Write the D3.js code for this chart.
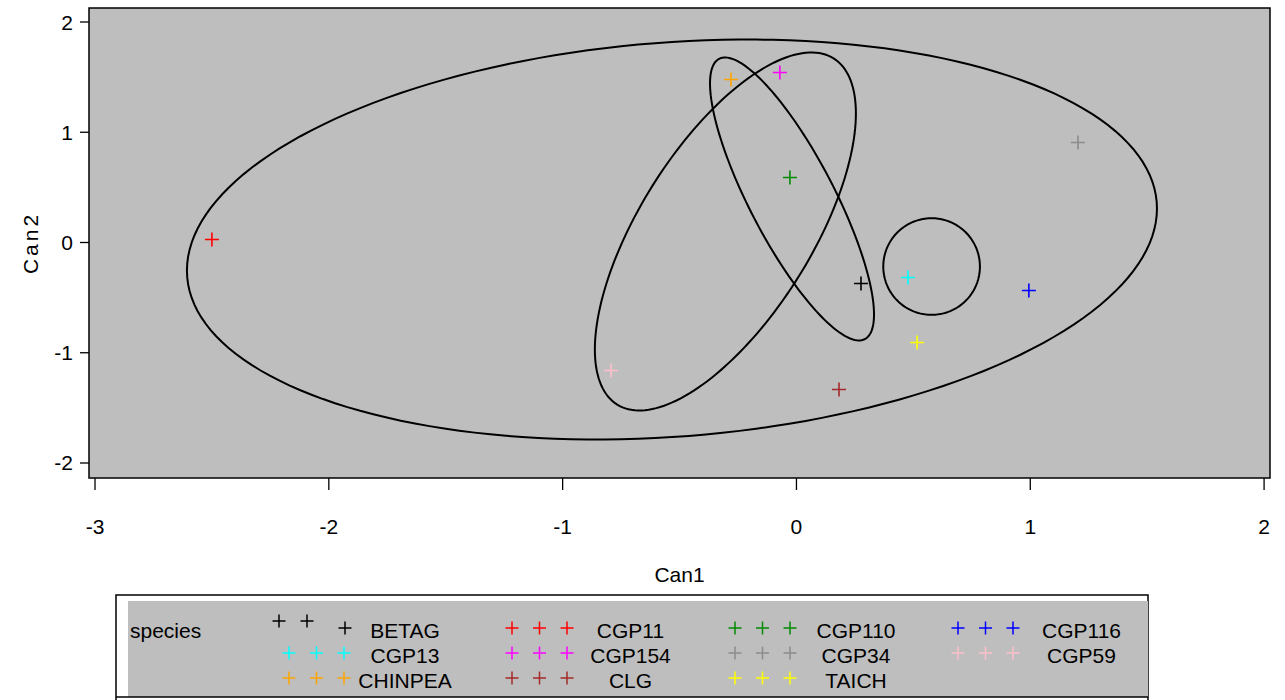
<!DOCTYPE html>
<html>
<head>
<meta charset="utf-8">
<script src="https://cdn.jsdelivr.net/npm/d3@7"></script>
<style>
  html, body { margin: 0; padding: 0; background: #ffffff; }
  svg { display: block; font-family: "Liberation Sans", Arial, sans-serif; }
</style>
</head>
<body>
<svg id="chart" width="1285" height="700"></svg>
<script>
// ---- data ----
const species = ["BETAG","CGP11","CGP110","CGP116","CGP13","CGP154","CGP34","CGP59","CHINPEA","CLG","TAICH"];
const speciesColors = ["#000000","#FF0000","#008B00","#0000FF","#00FFFF","#FF00FF","#8C8C8C","#FFC0CB","#FFA500","#A52A2A","#FFFF00"];
const can1 = [0.276, -2.500, -0.028, 0.994, 0.477, -0.071, 1.204, -0.793, -0.280, 0.182, 0.516];
const can2 = [-0.372, 0.027, 0.590, -0.435, -0.317, 1.542, 0.907, -1.161, 1.478, -1.333, -0.907];

// ellipses: centre and shape matrix (data units)
const ellCx  = [-0.5325, -0.019, -0.304, 0.578];
const ellCy  = [ 0.027,  0.395,  0.100, -0.218];
const ellSxx = [ 4.303,  0.1230, 0.3116, 0.0427];
const ellSxy = [ 0.583, -0.3674, 0.5974, 0.0];
const ellSyy = [ 3.291,  1.647,  2.636,  0.1919];

const xTicks = [-3, -2, -1, 0, 1, 2];
const yTicks = [-2, -1, 0, 1, 2];
const xDomain = [-3.0257, 2.0253];
const yDomain = [-2.1361, 2.1270];

// ---- layout ----
const svg = d3.select("#chart");
const P = { left: 89, right: 1270, top: 8, bottom: 478 };
const x = d3.scaleLinear().domain(xDomain).range([P.left, P.right]);
const y = d3.scaleLinear().domain(yDomain).range([P.bottom, P.top]);
const FS = "21px";

svg.append("defs").append("clipPath").attr("id", "panelClip")
  .append("rect").attr("x", P.left).attr("y", P.top)
  .attr("width", P.right - P.left).attr("height", P.bottom - P.top);

svg.append("rect")
  .attr("x", P.left).attr("y", P.top)
  .attr("width", P.right - P.left).attr("height", P.bottom - P.top)
  .attr("fill", "#BEBEBE");

const plot = svg.append("g").attr("clip-path", "url(#panelClip)");

// ellipses
const ts = d3.range(0, 361, 2).map(d => d * Math.PI / 180);
const line = d3.line().x(d => x(d[0])).y(d => y(d[1])).curve(d3.curveLinearClosed);
ellCx.forEach((cx, i) => {
  const a = Math.sqrt(ellSxx[i]);
  const b = ellSxy[i] / a;
  const c = Math.sqrt(ellSyy[i] - b * b);
  const pts = ts.map(t => [cx + a * Math.cos(t), ellCy[i] + b * Math.cos(t) + c * Math.sin(t)]);
  plot.append("path").attr("d", line(pts))
    .attr("fill", "none").attr("stroke", "#000").attr("stroke-width", 2);
});

// points
const plusPath = h => `M${-h},0H${h}M0,${-h}V${h}`;
species.forEach((s, i) => {
  plot.append("path")
    .attr("transform", `translate(${x(can1[i])},${y(can2[i])})`)
    .attr("d", plusPath(7))
    .attr("stroke", speciesColors[i]).attr("stroke-width", 1.6).attr("fill", "none");
});

// panel border
svg.append("rect")
  .attr("x", P.left).attr("y", P.top)
  .attr("width", P.right - P.left).attr("height", P.bottom - P.top)
  .attr("fill", "none").attr("stroke", "#000").attr("stroke-width", 1.5);

// x axis
const xAxis = svg.append("g");
xTicks.forEach(t => {
  xAxis.append("line").attr("x1", x(t)).attr("x2", x(t)).attr("y1", P.bottom).attr("y2", 490)
    .attr("stroke", "#000").attr("stroke-width", 1.3);
  xAxis.append("text").attr("x", x(t)).attr("y", 534).attr("text-anchor", "middle")
    .attr("font-size", FS).text(t);
});
svg.append("text").attr("x", (P.left + P.right) / 2).attr("y", 582)
  .attr("text-anchor", "middle").attr("font-size", FS).text("Can1");

// y axis
const yAxis = svg.append("g");
yTicks.forEach(t => {
  yAxis.append("line").attr("x1", 80).attr("x2", P.left).attr("y1", y(t)).attr("y2", y(t))
    .attr("stroke", "#000").attr("stroke-width", 1.3);
  yAxis.append("text").attr("x", 73).attr("y", y(t) + 7.5).attr("text-anchor", "end")
    .attr("font-size", FS).text(t);
});
svg.append("text")
  .attr("transform", `translate(38,${(P.top + P.bottom) / 2}) rotate(-90)`)
  .attr("text-anchor", "middle").attr("font-size", FS).attr("letter-spacing", "3px")
  .text("Can2");

// legend
const lg = svg.append("g");
lg.append("rect").attr("x", 116).attr("y", 595).attr("width", 1032).attr("height", 120)
  .attr("fill", "#fff").attr("stroke", "#000").attr("stroke-width", 1.5);
lg.append("rect").attr("x", 128).attr("y", 601).attr("width", 1020).attr("height", 96)
  .attr("fill", "#BEBEBE");
lg.append("line").attr("x1", 116).attr("x2", 1148).attr("y1", 697).attr("y2", 697)
  .attr("stroke", "#000").attr("stroke-width", 1.5);
lg.append("text").attr("x", 130).attr("y", 638).attr("font-size", FS).text("species");

species.forEach((s, i) => {
  const col = i % 4, row = Math.floor(i / 4);
  const base = 289 + 223 * col;
  const py = 628 + 25 * row;
  let offs = [[base, py], [base + 27.5, py], [base + 55, py]];
  if (i === 0) offs = [[279, 621], [307, 621], [345, 628]];
  offs.forEach(o => {
    lg.append("path").attr("transform", `translate(${o[0]},${o[1]})`)
      .attr("d", plusPath(6.5))
      .attr("stroke", speciesColors[i]).attr("stroke-width", 1.5).attr("fill", "none");
  });
  lg.append("text").attr("x", 405 + 225.5 * col).attr("y", 638 + 25 * row)
    .attr("text-anchor", "middle").attr("font-size", FS).text(s);
});
</script>
</body>
</html>
